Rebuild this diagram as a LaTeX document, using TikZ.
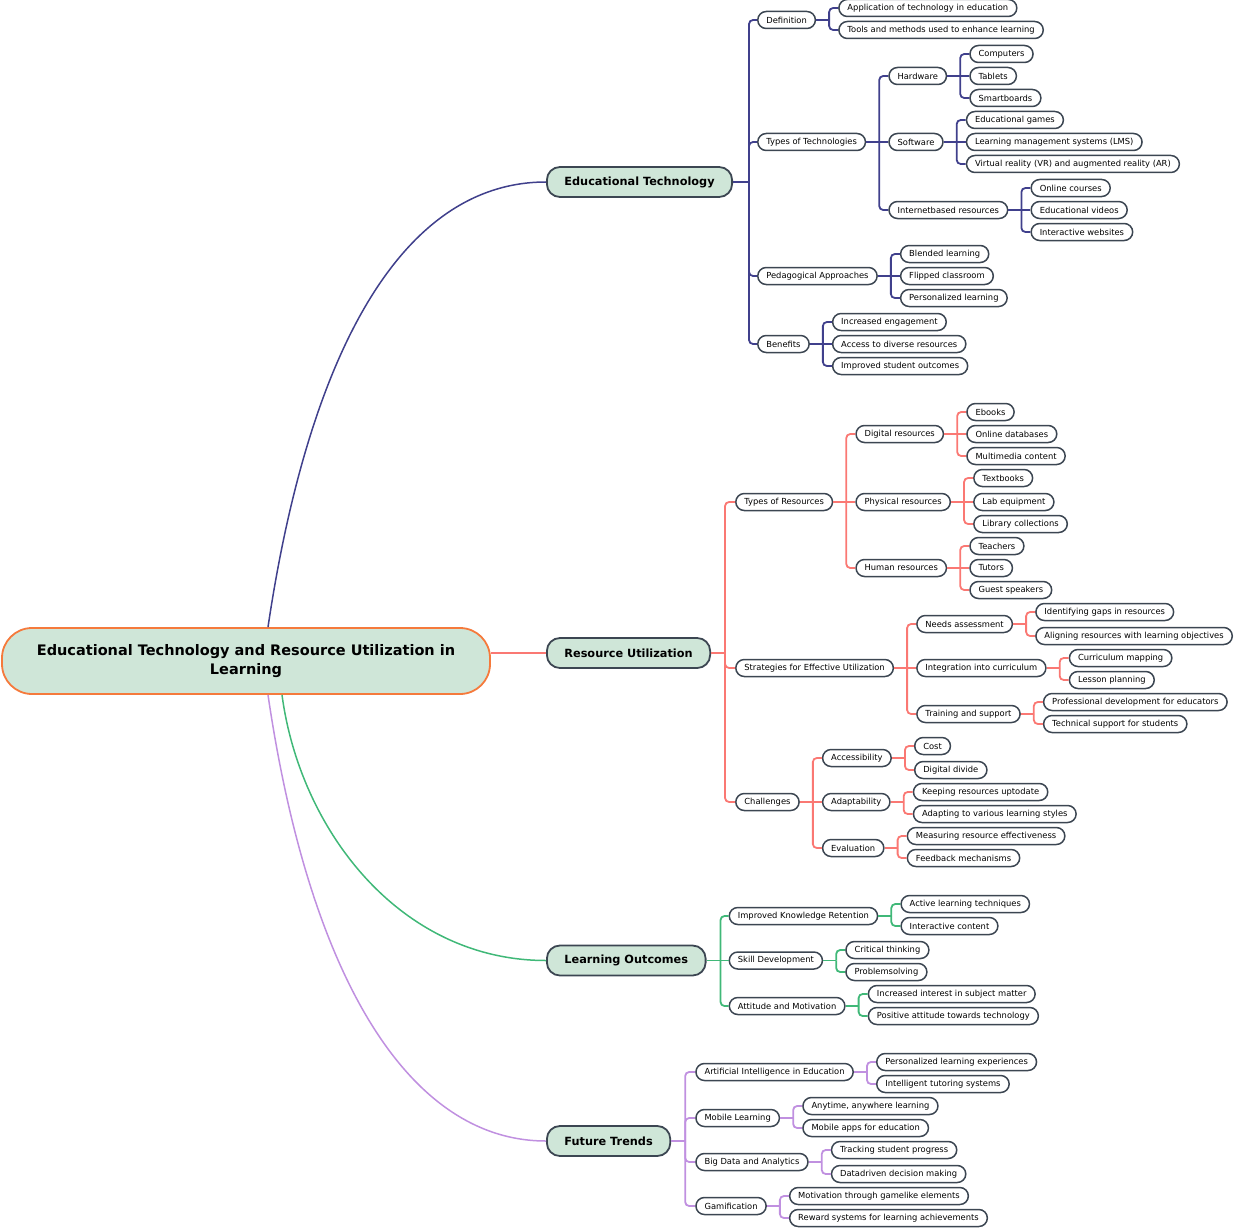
\documentclass[tikz,border=0pt]{standalone}
\usepackage{fontspec}
\usetikzlibrary{calc}
\newfontfamily\dvs{DejaVu Sans}
\definecolor{cET}{RGB}{64,64,140}
\definecolor{cRU}{RGB}{250,120,115}
\definecolor{cLO}{RGB}{64,184,120}
\definecolor{cFT}{RGB}{192,144,224}
\definecolor{bord}{RGB}{60,70,82}
\definecolor{fillg}{RGB}{207,230,216}
\definecolor{orng}{RGB}{245,122,60}
\tikzset{
  leafn/.style={rectangle, rounded corners=8.5pt, draw=bord, line width=1.5pt, fill=white,
    font=\dvs\fontsize{8.35}{9}\selectfont, inner xsep=8.6pt, inner ysep=0pt,
    minimum height=17pt, anchor=west, text=black},
  lvone/.style={rectangle, rounded corners=13pt, draw=bord, line width=1.8pt, fill=fillg,
    font=\dvs\bfseries\fontsize{11.3}{13}\selectfont, inner xsep=17.5pt, inner ysep=0pt,
    minimum height=30pt, anchor=west, text=black},
  rootn/.style={rectangle, rounded corners=30pt, draw=orng, line width=1.8pt, fill=fillg,
    font=\dvs\bfseries\fontsize{14.5}{19}\selectfont, align=center,
    minimum width=488pt, minimum height=66pt, text=black},
  conn/.style={line width=1.8pt},
  rconn/.style={line width=1.5pt}
}
\newcommand\grp[6]{%
  \coordinate (#1-j) at ($(#1.east)+(#4,0)$);
  \coordinate (#1-c) at ($(#1.east)+(#5,0)$);
  \draw[conn,#3] (#1.east) -- (#1-j);
  \foreach \n/\y/\t in {#6} {%
    \node[leafn] (\n) at (#1-c |- 0,\y) {\t};
    \pgfmathsetmacro\dd{abs(\y-#2)}%
    \ifdim\dd pt<1.5pt
      \draw[conn,#3] (#1-j) -- (\n.west);
    \else
      \draw[conn,#3,rounded corners=4pt] (#1-j) |- (\n.west);
    \fi
  }%
}
\begin{document}
\begin{tikzpicture}[x=1pt,y=-1pt]
\useasboundingbox (0,0) rectangle (1240,1228);
\node[rootn] (root) at (246,661) {Educational Technology and Resource Utilization in\\Learning};
\node[lvone] (et) at (546,182) {Educational Technology};
\node[lvone] (ru) at (546,653) {Resource Utilization};
\node[lvone] (lo) at (546,960.5) {Learning Outcomes};
\node[lvone] (ft) at (546,1141) {Future Trends};

\draw[rconn,cET] (root.north -| 268,0) .. controls (310,345) and (405,182) .. (et.west);
\draw[rconn,cRU] (root.east |- ru.west) -- (ru.west);
\draw[rconn,cLO] (root.south -| 282,0) .. controls (300,830) and (400,960.5) .. (lo.west);
\draw[rconn,cFT] (root.south -| 268,0) .. controls (310,980) and (410,1141) .. (ft.west);

% Educational Technology
\grp{et}{182}{cET}{16}{24}{def/20/Definition, tot/142/Types of Technologies, ped/276/Pedagogical Approaches, ben/344/Benefits}
\grp{def}{20}{cET}{13}{22}{d1/8/Application of technology in education, d2/30/Tools and methods used to enhance learning}
\grp{tot}{142}{cET}{13}{22}{hw/76/Hardware, sw/142/Software, ibr/210/Internetbased resources}
\grp{hw}{76}{cET}{13}{22}{hw1/54/Computers, hw2/76/Tablets, hw3/98/Smartboards}
\grp{sw}{142}{cET}{13}{22}{sw1/120/Educational games, sw2/142/Learning management systems (LMS), sw3/164/Virtual reality (VR) and augmented reality (AR)}
\grp{ibr}{210}{cET}{13}{22}{ib1/188/Online courses, ib2/210/Educational videos, ib3/232/Interactive websites}
\grp{ped}{276}{cET}{13}{22}{pe1/254/Blended learning, pe2/276/Flipped classroom, pe3/298/Personalized learning}
\grp{ben}{344}{cET}{13}{22}{be1/322/Increased engagement, be2/344/Access to diverse resources, be3/366/Improved student outcomes}

% Resource Utilization
\grp{ru}{653}{cRU}{14}{24}{tor/502/Types of Resources, sfe/668/Strategies for Effective Utilization, cha/802/Challenges}
\grp{tor}{502}{cRU}{13}{22}{dr/434/Digital resources, pr/502/Physical resources, hr/568/Human resources}
\grp{dr}{434}{cRU}{13}{22}{dr1/412/Ebooks, dr2/434/Online databases, dr3/456/Multimedia content}
\grp{pr}{502}{cRU}{13}{22}{pr1/478/Textbooks, pr2/502/Lab equipment, pr3/524/Library collections}
\grp{hr}{568}{cRU}{13}{22}{hr1/546/Teachers, hr2/568/Tutors, hr3/590/Guest speakers}
\grp{sfe}{668}{cRU}{13}{22}{na/624/Needs assessment, ic/668/Integration into curriculum, ts/714/Training and support}
\grp{na}{624}{cRU}{13}{22}{na1/612/Identifying gaps in resources, na2/636/Aligning resources with learning objectives}
\grp{ic}{668}{cRU}{13}{22}{ic1/658/Curriculum mapping, ic2/680/Lesson planning}
\grp{ts}{714}{cRU}{13}{22}{ts1/702/Professional development for educators, ts2/724/Technical support for students}
\grp{cha}{802}{cRU}{13}{22}{ac/758/Accessibility, ad/802/Adaptability, ev/848/Evaluation}
\grp{ac}{758}{cRU}{13}{22}{ac1/746/Cost, ac2/770/Digital divide}
\grp{ad}{802}{cRU}{13}{22}{ad1/792/Keeping resources uptodate, ad2/814/Adapting to various learning styles}
\grp{ev}{848}{cRU}{13}{22}{ev1/836/Measuring resource effectiveness, ev2/858/Feedback mechanisms}

% Learning Outcomes
\grp{lo}{960.5}{cLO}{14}{22}{ikr/916/Improved Knowledge Retention, sd/960.5/Skill Development, am/1006/Attitude and Motivation}
\grp{ikr}{916}{cLO}{13}{22}{ik1/904/Active learning techniques, ik2/926/Interactive content}
\grp{sd}{960.5}{cLO}{13}{22}{sd1/950/Critical thinking, sd2/972/Problemsolving}
\grp{am}{1006}{cLO}{13}{22}{am1/994/Increased interest in subject matter, am2/1016/Positive attitude towards technology}

% Future Trends
\grp{ft}{1141}{cFT}{14}{24}{ai/1072/Artificial Intelligence in Education, ml/1118/Mobile Learning, bd/1162/Big Data and Analytics, ga/1206/Gamification}
\grp{ai}{1072}{cFT}{13}{22}{ai1/1062/Personalized learning experiences, ai2/1084/Intelligent tutoring systems}
\grp{ml}{1118}{cFT}{13}{22}{ml1/1106/{Anytime, anywhere learning}, ml2/1128/Mobile apps for education}
\grp{bd}{1162}{cFT}{13}{22}{bd1/1150/Tracking student progress, bd2/1174/Datadriven decision making}
\grp{ga}{1206}{cFT}{13}{22}{ga1/1196/Motivation through gamelike elements, ga2/1218/Reward systems for learning achievements}
\end{tikzpicture}
\end{document}
